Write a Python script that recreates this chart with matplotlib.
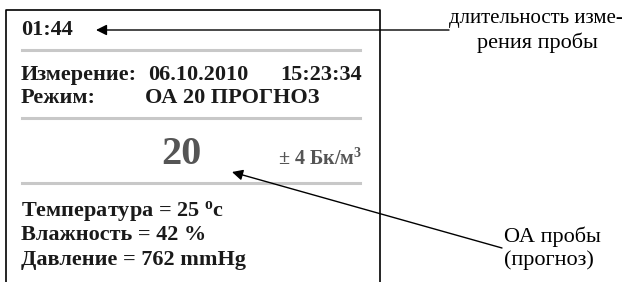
import matplotlib
matplotlib.use('Agg')
from matplotlib import pyplot as plt

plt.rcParams['font.family'] = ['Liberation Serif', 'DejaVu Serif']
plt.rcParams['mathtext.fontset'] = 'custom'
plt.rcParams['mathtext.rm'] = 'Liberation Serif:bold'
plt.rcParams['mathtext.it'] = 'Liberation Serif:bold'
plt.rcParams['mathtext.bf'] = 'Liberation Serif:bold'

# Screen contents
timer = '01:44'
meas_label, meas_date, meas_time = 'Измерение:', '06.10.2010', '15:23:34'
mode_label, mode_value = 'Режим:', 'ОА 20 ПРОГНОЗ'
activity = '20'
error_text = '± 4 Бк/м$^3$'
env_lines = ['Температура = 25 $^{\\mathrm{o}}$c',
             'Влажность = 42 %',
             'Давление = 762 mmHg']
callout_top = ['длительность изме-', 'рения пробы']
callout_bottom = ['ОА пробы', '(прогноз)']

fig = plt.figure(figsize=(6.4, 2.82), dpi=100)
ax = fig.add_axes([0, 0, 1, 1])
ax.set_xlim(0, 640)
ax.set_ylim(282, 0)
ax.axis('off')

# screen frame (open at bottom)
ax.plot([5.5, 5.5, 379.5, 379.5], [290, 9.5, 9.5, 290], color='black', lw=1.2)

# grey separators
for y in [50, 118, 183]:
    ax.plot([22, 360], [y, y], color='#c8c8c8', lw=2.2)

bold = dict(fontweight='bold', color='#1a1a1a', va='center', ha='left')
ax.text(21, 30, timer, fontsize=16, **bold)
ax.text(21, 75, meas_label, fontsize=16, **bold)
ax.text(148, 75, meas_date, fontsize=16, **bold)
ax.text(362, 75, meas_time, fontsize=16, fontweight='bold', color='#1a1a1a',
        va='center', ha='right')
ax.text(21, 98, mode_label, fontsize=16, **bold)
ax.text(145, 98, mode_value, fontsize=16, **bold)

ax.text(181, 155, activity, fontsize=29, fontweight='bold', color='#555555',
        ha='center', va='center')
ax.text(362, 159, error_text, fontsize=14.5, fontweight='bold', color='#555555',
        ha='right', va='center')

for i, line in enumerate(env_lines):
    ax.text(21, 211 + i * 24.5, line, fontsize=16, **bold)

# callouts
ax.annotate('', xy=(96, 30), xytext=(449, 30),
            arrowprops=dict(arrowstyle='-|>', color='black', lw=1,
                            mutation_scale=16, shrinkA=0, shrinkB=0))
ax.text(449, 18, callout_top[0], fontsize=15, ha='left', va='center')
ax.text(537, 43, callout_top[1], fontsize=16, ha='center', va='center')

ax.annotate('', xy=(232, 172), xytext=(502, 248),
            arrowprops=dict(arrowstyle='-|>', color='black', lw=1,
                            mutation_scale=16, shrinkA=0, shrinkB=0))
ax.text(504, 237, callout_bottom[0], fontsize=16, ha='left', va='center')
ax.text(504, 260, callout_bottom[1], fontsize=16, ha='left', va='center')

plt.savefig('out.png', dpi=100)
plt.close()
